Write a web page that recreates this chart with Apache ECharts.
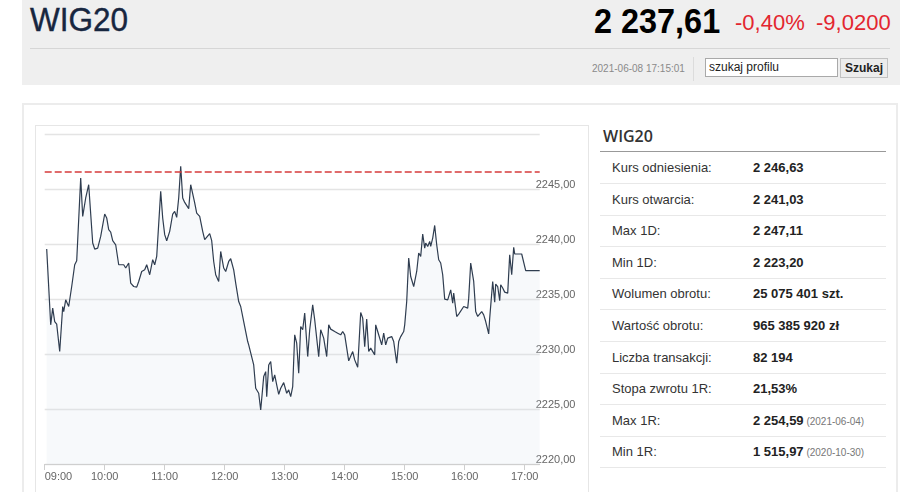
<!DOCTYPE html>
<html>
<head>
<meta charset="utf-8">
<script src="https://cdn.jsdelivr.net/npm/echarts@6.0.0/dist/echarts.min.js"></script>
<style>
  html, body { margin:0; padding:0; background:#fff; width:921px; height:492px; overflow:hidden; font-family:"Liberation Sans", Arial, sans-serif; }
  .abs { position:absolute; }
  #hdr { left:22px; top:0; width:878px; height:85px; background:#efefef; }
  #title { left:30px; top:0px; font-size:33.5px; color:#17263f; line-height:40px; transform:scaleX(0.94); transform-origin:left top; white-space:nowrap; -webkit-text-stroke:0.4px #17263f; }
  #price { left:594px; top:0px; font-size:35px; font-weight:bold; color:#000; line-height:42px; transform:scaleX(0.926); transform-origin:left top; white-space:nowrap; }
  #pct { left:735px; top:9px; font-size:22px; color:#e3262f; line-height:28px; white-space:nowrap; }
  #abs { left:816px; top:9px; font-size:22px; color:#e3262f; line-height:28px; white-space:nowrap; }
  #hline { left:30px; top:48px; width:860px; height:1px; background:#d6d6d6; }
  #stamp { left:592px; top:62px; font-size:10px; color:#8a8a8a; line-height:14px; white-space:nowrap; }
  #vsep { left:693px; top:57px; width:1px; height:24px; background:#dcdcdc; }
  #search { left:705px; top:58px; width:128px; height:17px; background:#fff; border:1px solid #a9a9a9; font-size:12px; line-height:16px; color:#222; padding-left:3px; box-sizing:content-box; }
  #btn { left:840px; top:58px; width:46px; height:18px; background:#ececec; border:1px solid #c2c2c2; font-size:12px; font-weight:bold; line-height:18px; color:#222; text-align:center; }
  #panel { left:22px; top:103px; width:872px; height:420px; border:2px solid #ececec; }
  #chartbox { left:35px; top:125px; width:552px; height:400px; border:1px solid #e6e6e6; }
  #chart { left:36px; top:126px; width:551px; height:366px; }
  #ttitle { left:603px; top:124px; font-family:"Open Sans", sans-serif; font-weight:600; font-size:16px; color:#333; line-height:24px; }
  #tline { left:600px; top:151px; width:286px; height:1px; background:#999; }
  .row { position:absolute; left:600px; width:286px; height:31px; border-bottom:1px solid #e8e8e8; font-size:13px; line-height:31px; color:#333; }
  .row .lab { position:absolute; left:12px; top:0; }
  .row .val { position:absolute; left:153px; top:0; font-weight:bold; color:#222; white-space:nowrap; }
  .row .val small { font-weight:normal; font-size:10px; color:#777; }
</style>
</head>
<body>
<div id="hdr" class="abs"></div>
<div id="title" class="abs"></div>
<div id="price" class="abs"></div>
<div id="pct" class="abs"></div>
<div id="abs" class="abs"></div>
<div id="hline" class="abs"></div>
<div id="stamp" class="abs"></div>
<div id="vsep" class="abs"></div>
<div id="search" class="abs"></div>
<div id="btn" class="abs"></div>
<div id="panel" class="abs"></div>
<div id="chartbox" class="abs"></div>
<div id="chart" class="abs"></div>
<div id="ttitle" class="abs"></div>
<div id="tline" class="abs"></div>
<div id="rows"></div>
<script>
// ---- header data ----
const indexName = "WIG20";
const lastPrice = "2 237,61";
const changePct = "-0,40%";
const changeAbs = "-9,0200";
const stampText = "2021-06-08 17:15:01";
const searchPlaceholder = "szukaj profilu";
const searchButton = "Szukaj";

// ---- table data ----
const tableLabels = ["Kurs odniesienia:", "Kurs otwarcia:", "Max 1D:", "Min 1D:", "Wolumen obrotu:", "Wartość obrotu:", "Liczba transakcji:", "Stopa zwrotu 1R:", "Max 1R:", "Min 1R:"];
const tableValues = ["2 246,63", "2 241,03", "2 247,11", "2 223,20", "25 075 401 szt.", "965 385 920 zł", "82 194", "21,53%", "2 254,59", "1 515,97"];
const tableDates  = ["", "", "", "", "", "", "", "", "(2021-06-04)", "(2020-10-30)"];

// ---- chart data ----
const referenceLevel = 2246.63;
const xTickLabels = ["09:00","10:00","11:00","12:00","13:00","14:00","15:00","16:00","17:00"];
const yTickValues = [2220, 2225, 2230, 2235, 2240, 2245];
const sessionStart = "09:00";
const sessionEnd = "17:15";
const times = [
"09:02","09:06","09:08","09:10","09:12","09:14","09:15","09:18","09:19","09:21",
"09:24","09:27","09:30","09:32","09:36","09:38","09:41","09:44","09:48","09:50",
"09:53","09:56","10:00","10:02","10:04","10:06","10:08","10:11","10:14","10:16",
"10:19","10:21","10:23","10:24","10:26","10:29","10:32","10:34","10:37","10:40",
"10:42","10:45","10:48","10:50","10:52","10:56","10:58","11:00","11:02","11:05",
"11:08","11:10","11:12","11:14","11:16","11:18","11:20","11:22","11:24","11:26",
"11:28","11:30","11:32","11:35","11:38","11:40","11:42","11:45","11:47","11:49",
"11:51","11:54","11:56","11:59","12:01","12:04","12:06","12:09","12:11","12:14",
"12:16","12:19","12:23","12:24","12:26","12:29","12:31","12:34","12:36","12:39",
"12:41","12:42","12:44","12:46","12:48","12:50","12:52","12:54","12:56","12:59",
"13:02","13:04","13:06","13:08","13:10","13:12","13:14","13:16","13:18","13:20",
"13:23","13:25","13:28","13:30","13:34","13:36","13:39","13:42","13:44","13:46",
"13:48","13:50","13:51","13:53","13:55","13:56","13:58","14:00","14:01","14:04",
"14:06","14:08","14:10","14:13","14:16","14:18","14:20","14:22","14:24","14:26",
"14:28","14:30","14:31","14:33","14:35","14:37","14:39","14:41","14:43","14:45",
"14:47","14:49","14:52","14:54","14:56","14:59","15:00","15:02","15:04","15:06",
"15:09","15:12","15:14","15:16","15:18","15:20","15:21","15:23","15:25","15:26",
"15:28","15:30","15:32","15:34","15:36","15:38","15:40","15:43","15:44","15:46",
"15:48","15:49","15:52","15:54","15:56","15:59","16:01","16:03","16:04","16:06",
"16:08","16:09","16:11","16:13","16:15","16:17","16:19","16:21","16:24","16:25",
"16:28","16:30","16:31","16:33","16:35","16:36","16:38","16:40","16:41","16:43",
"16:45","16:47","16:49","16:50","16:54","16:57","16:59","17:01","17:05","17:15"
];
const prices = [
2239.57,2232.67,2234.19,2232.97,2232.73,2232.67,2230.24,2234.34,2233.88,2234.95,
2234.34,2236.16,2238.14,2238.50,2246.04,2242.54,2244.22,2245.43,2240.12,2239.57,
2239.66,2240.72,2242.76,2242.40,2241.33,2241.12,2240.33,2239.96,2238.14,2238.30,
2238.14,2237.84,2237.78,2238.30,2236.47,2236.16,2236.10,2236.62,2237.53,2237.68,
2238.14,2237.23,2238.60,2238.14,2238.90,2244.82,2242.40,2240.88,2240.33,2241.18,
2242.76,2243.00,2242.45,2244.22,2247.11,2244.22,2243.82,2243.67,2243.25,2245.43,
2245.59,2243.77,2242.85,2242.54,2241.18,2240.42,2240.26,2240.97,2240.33,2238.44,
2237.23,2236.62,2239.35,2237.84,2237.53,2238.44,2238.69,2237.68,2236.47,2234.79,
2234.34,2232.97,2231.15,2230.85,2231.00,2229.02,2226.90,2226.44,2224.92,2227.96,
2228.41,2226.13,2229.02,2229.33,2227.50,2228.11,2227.20,2226.35,2226.90,2227.41,
2226.44,2226.75,2226.13,2227.05,2231.76,2231.00,2228.27,2232.52,2232.22,2233.74,
2229.78,2232.22,2234.49,2233.13,2229.78,2232.22,2231.46,2229.78,2232.67,2232.28,
2232.37,2232.06,2232.22,2231.91,2232.06,2231.76,2232.06,2231.76,2231.60,2229.39,
2229.48,2230.24,2229.48,2228.81,2233.79,2233.28,2230.69,2233.19,2230.24,2230.55,
2230.69,2229.94,2232.67,2232.06,2232.06,2230.85,2231.91,2230.85,2231.46,2231.30,
2231.60,2231.15,2229.18,2231.15,2231.60,2232.06,2232.67,2234.79,2238.75,2237.07,
2236.16,2237.53,2239.21,2238.90,2240.94,2239.66,2240.12,2239.81,2240.26,2239.81,
2240.57,2241.72,2239.96,2238.60,2238.30,2237.23,2235.01,2234.95,2234.95,2235.86,
2234.65,2235.56,2233.43,2233.65,2233.79,2234.34,2234.34,2234.19,2235.10,2238.30,
2238.20,2236.62,2233.88,2233.43,2233.40,2233.88,2233.58,2232.97,2231.85,2233.28,
2236.62,2234.74,2236.38,2236.16,2234.86,2236.32,2236.02,2235.65,2235.77,2235.56,
2239.05,2237.23,2239.72,2239.12,2239.12,2239.12,2239.05,2237.61,2237.61,2237.61
];

// ---- build page texts ----
document.getElementById('title').textContent = indexName;
document.getElementById('price').textContent = lastPrice;
document.getElementById('pct').textContent = changePct;
document.getElementById('abs').textContent = changeAbs;
document.getElementById('stamp').textContent = stampText;
document.getElementById('search').textContent = searchPlaceholder;
document.getElementById('btn').textContent = searchButton;
document.getElementById('ttitle').textContent = indexName;
const rowsEl = document.getElementById('rows');
tableLabels.forEach((lab, i) => {
  const r = document.createElement('div');
  r.className = 'row';
  r.style.top = (152 + i * 31.6) + 'px';
  const l = document.createElement('span'); l.className = 'lab'; l.textContent = lab;
  const v = document.createElement('span'); v.className = 'val'; v.textContent = tableValues[i];
  if (tableDates[i]) { const s = document.createElement('small'); s.textContent = ' ' + tableDates[i]; v.appendChild(s); }
  r.appendChild(l); r.appendChild(v); rowsEl.appendChild(r);
});

// ---- chart ----
const toMin = t => { const p = t.split(':'); return +p[0] * 60 + +p[1]; };
const fmtTime = m => String(Math.floor(m / 60)).padStart(2, '0') + ':' + String(m % 60).padStart(2, '0');
const seriesData = times.map((t, i) => [toMin(t), prices[i]]);
const xTicks = xTickLabels.map(toMin);

const chart = echarts.init(document.getElementById('chart'), null, { renderer: 'canvas' });
chart.setOption({
  animation: false,
  grid: { left: 8.7, top: 8.5, width: 495, height: 329.5 },
  xAxis: {
    type: 'value',
    min: toMin(sessionStart),
    max: toMin(sessionEnd),
    interval: 60,
    splitLine: { show: false },
    axisLine: { show: true, lineStyle: { color: '#cfcfcf', width: 1 } },
    axisTick: { show: true, length: 6, lineStyle: { color: '#cfcfcf' }, customValues: xTicks },
    axisLabel: {
      customValues: xTicks,
      alignMinLabel: 'left',
      formatter: v => fmtTime(v),
      color: '#666', fontSize: 11, fontFamily: 'Liberation Sans, Arial, sans-serif', margin: 7
    }
  },
  yAxis: {
    type: 'value',
    position: 'right',
    min: 2220,
    max: 2250,
    interval: 5,
    axisLine: { show: false },
    axisTick: { show: false },
    splitLine: { show: true, lineStyle: { color: '#e4e4e4', width: 1.3 } },
    axisLabel: {
      showMaxLabel: false,
      formatter: v => v.toFixed(2).replace('.', ','),
      color: '#666', fontSize: 11, fontFamily: 'Liberation Sans, Arial, sans-serif',
      margin: -4, align: 'left', verticalAlign: 'bottom', lineHeight: 8
    }
  },
  series: [{
    type: 'line',
    data: seriesData,
    showSymbol: false,
    symbol: 'none',
    lineStyle: { color: '#2f3d50', width: 1.2 },
    areaStyle: { color: 'rgba(215,222,233,0.28)', origin: 'start' },
    markLine: {
      silent: true,
      symbol: ['none', 'none'],
      label: { show: false },
      lineStyle: { color: '#d63b3b', type: [7, 3], width: 1.5 },
      data: [{ yAxis: referenceLevel }]
    }
  }]
});
</script>
</body>
</html>
